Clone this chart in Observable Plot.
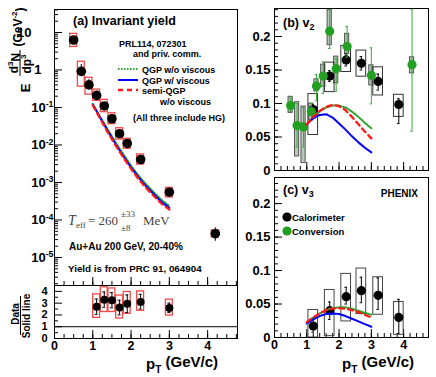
<!DOCTYPE html>
<html><head><meta charset="utf-8">
<script src="https://cdn.jsdelivr.net/npm/d3@7"></script>
<script src="https://cdn.jsdelivr.net/npm/@observablehq/plot@0.6"></script>
<style>
body{margin:0;background:#fff;}
#wrap{position:relative;width:436px;height:377px;overflow:hidden;background:#fff;font-family:"Liberation Sans",Arial,Helvetica,sans-serif;}
#wrap svg{position:absolute;overflow:visible;}
</style></head><body><div id="wrap"></div>
<script>
// ---------- Panel (a): invariant yield ----------
const yieldPT = [0.5, 0.7, 0.9, 1.1, 1.3, 1.5, 1.7, 1.9, 2.25, 3.0, 4.2];
const yieldVal = [6.3, 0.92, 0.4, 0.21, 0.11, 0.05, 0.02, 0.011, 0.0041, 0.00055, 4.3e-5];
const yieldStatLo = [5.5, 0.68, 0.31, 0.17, 0.095, 0.044, 0.017, 0.0095, 0.0036, 0.00048, 2.7e-5];
const yieldStatHi = [7.2, 1.4, 0.56, 0.26, 0.13, 0.057, 0.024, 0.0128, 0.0047, 0.00063, 6.2e-5];
const yieldSysLo = [4.1, 0.36, 0.22, 0.15, 0.075, 0.036, 0.014, 0.0079, 0.003, 0.0004, 3.4e-5];
const yieldSysHi = [9.2, 1.66, 0.62, 0.3, 0.16, 0.07, 0.028, 0.0146, 0.0056, 0.00072, 5.3e-5];

const modelPT = [1.0, 1.2, 1.4, 1.6, 1.8, 2.0, 2.2, 2.4, 2.6, 2.8, 3.0];
const yieldQGPnoVisc = [0.125, 0.055, 0.025, 0.0115, 0.0056, 0.0028, 0.0015, 0.00088, 0.00054, 0.00034, 0.000235];
const yieldQGPvisc = [0.12, 0.052, 0.023, 0.0105, 0.005, 0.0025, 0.00135, 0.00078, 0.00048, 0.0003, 0.00021];
const yieldSemiQGP = [0.115, 0.049, 0.021, 0.0096, 0.0046, 0.0023, 0.00122, 0.0007, 0.00043, 0.00027, 0.00019];

const yieldTickVals = [10, 1, 0.1, 0.01, 0.001, 1e-4, 1e-5];
const yieldTickText = ["10", "1", "10^-1", "10^-2", "10^-3", "10^-4", "10^-5"];

// ratio Data / Solid line
const ratioPT = [1.1, 1.3, 1.5, 1.7, 1.9, 2.25, 3.0];
const ratioVal = [2.7, 3.3, 3.25, 2.63, 2.95, 3.1, 2.6];
const ratioStatLo = [2.05, 2.65, 2.6, 2.0, 2.2, 2.5, 2.2];
const ratioStatHi = [3.35, 3.95, 3.9, 3.25, 3.7, 3.75, 3.0];
const ratioSysLo = [1.75, 2.25, 2.25, 1.7, 2.1, 2.35, 1.95];
const ratioSysHi = [3.75, 4.35, 4.25, 3.65, 3.95, 4.0, 3.3];
const ratioRef = [1];
const ratioTickVals = [0, 1, 2, 3, 4];
const ptTickVals = [0, 1, 2, 3, 4];
const ptTickText = ["0", "1", "2", "3", "4"];

// ---------- Panel (b): v2 ----------
const v2CalPT = [1.2, 1.71, 2.22, 2.69, 3.21, 3.85];
const v2Cal = [0.091, 0.141, 0.165, 0.160, 0.133, 0.0985];
const v2CalStatLo = [0.08, 0.133, 0.156, 0.150, 0.120, 0.070];
const v2CalStatHi = [0.098, 0.149, 0.174, 0.170, 0.144, 0.107];
const v2CalSysLo = [0.053, 0.117, 0.147, 0.140, 0.112, 0.080];
const v2CalSysHi = [0.114, 0.161, 0.186, 0.179, 0.154, 0.113];

const v2ConvPT = [0.5, 0.7, 0.9, 1.14, 1.3, 1.51, 1.71, 1.91, 2.25, 3.0, 4.26];
const v2Conv = [0.097, 0.067, 0.065, 0.088, 0.126, 0.141, 0.208, 0.152, 0.185, 0.142, 0.158];
const v2ConvStatLo = [0.088, 0.035, 0.035, 0.076, 0.104, 0.115, 0.182, 0.118, 0.169, 0.0995, 0.0587];
const v2ConvStatHi = [0.108, 0.1, 0.094, 0.1, 0.143, 0.162, 0.24, 0.167, 0.215, 0.183, 0.241];
const v2ConvSysLo = [0.086, 0.021, 0.011, 0.075, 0.118, 0.125, 0.187, 0.13, 0.174, 0.127, 0.145];
const v2ConvSysHi = [0.110, 0.102, 0.0955, 0.10, 0.136, 0.158, 0.24, 0.17, 0.204, 0.157, 0.169];

const v2QGPnoVisc = [0.069, 0.079, 0.088, 0.094, 0.097, 0.097, 0.094, 0.088, 0.080, 0.071, 0.063];
const v2QGPvisc = [0.069, 0.078, 0.083, 0.084, 0.079, 0.070, 0.061, 0.051, 0.042, 0.034, 0.027];
const v2SemiQGP = [0.069, 0.080, 0.089, 0.095, 0.098, 0.096, 0.090, 0.080, 0.069, 0.058, 0.048];

// ---------- Panel (c): v3 ----------
const v3CalPT = [1.2, 1.71, 2.22, 2.69, 3.21, 3.85];
const v3Cal = [0.017, 0.040, 0.061, 0.070, 0.063, 0.030];
const v3CalStatLo = [0.008, 0.027, 0.050, 0.052, 0.042, 0.006];
const v3CalStatHi = [0.028, 0.053, 0.075, 0.090, 0.089, 0.057];
const v3CalSysLo = [0.0, 0.002, 0.024, 0.035, 0.034, 0.004];
const v3CalSysHi = [0.041, 0.071, 0.095, 0.103, 0.090, 0.053];

const v3QGPnoVisc = [0.023, 0.030, 0.036, 0.041, 0.044, 0.045, 0.045, 0.043, 0.040, 0.037, 0.034];
const v3QGPvisc = [0.021, 0.027, 0.032, 0.035, 0.036, 0.035, 0.032, 0.028, 0.024, 0.020, 0.016];
const v3SemiQGP = [0.023, 0.030, 0.036, 0.041, 0.043, 0.044, 0.043, 0.041, 0.038, 0.034, 0.030];

const vnTickVals = [0, 0.05, 0.1, 0.15, 0.2];
const vnTickText = ["0", "0.05", "0.1", "0.15", "0.2"];

// ---------- styles ----------
const FONT = "'Liberation Sans', Arial, Helvetica, sans-serif";
const GREEN = "#22a022";
const GREEN_LINE = "#2aa52a";
const BLUE = "#0000ff";
const RED = "#ff1a1a";
const BOXRED = "#f04848";

const wrap = document.getElementById("wrap");

function supify(svg) {
  d3.select(svg).selectAll("text").each(function () {
    const t = this.textContent;
    const m = t.match(/^(.*?)\^(\S+)$/);
    if (!m) return;
    const s = d3.select(this);
    s.text(null);
    s.append("tspan").text(m[1]);
    s.append("tspan").attr("dy", "-0.5em").attr("font-size", "0.68em").text(m[2]);
  });
}
function plotAt(left, top, opts) {
  const svg = Plot.plot({...opts, style: {background: "transparent", fontFamily: FONT, overflow: "visible", color: "black"}});
  svg.style.position = "absolute";
  svg.style.left = left + "px";
  svg.style.top = top + "px";
  wrap.appendChild(svg);
  supify(svg);
  return svg;
}
const idx = a => a.map((_, i) => i);
const minorRange = (a, b, s) => d3.range(Math.round((b - a) / s) + 1).map(k => +(a + k * s).toFixed(4));
function logMinor(lo, hi) {
  const out = [];
  for (let e = -7; e <= 2; e++) for (let m = 2; m <= 9; m++) { const v = m * Math.pow(10, e); if (v > lo && v < hi) out.push(v); }
  return out;
}
const tickMarks = (axis, vals, size, anchor) => axis(vals, {anchor, tickSize: -size, fill: "none", strokeWidth: 1});
const lbl = {fontSize: 13, fontWeight: "bold", fill: "black"};
const xlbl = {fontSize: 12.5, fontWeight: "bold", fill: "black"};

function curves(xs, g, b, r) {
  const iM = idx(xs);
  return [
    Plot.line(iM, {x: i => xs[i], y: i => g[i], stroke: GREEN_LINE, strokeWidth: 2, strokeDasharray: "1.5,1.5"}),
    Plot.line(iM, {x: i => xs[i], y: i => b[i], stroke: BLUE, strokeWidth: 2}),
    Plot.line(iM, {x: i => xs[i], y: i => r[i], stroke: RED, strokeWidth: 2.3, strokeDasharray: "5,4"})
  ];
}

// ---------- Panel (a) upper ----------
const iA = idx(yieldPT);
const iT = idx(yieldTickVals);
const svgA = plotAt(0, 0, {
  width: 240, height: 286, marginLeft: 54, marginRight: 3, marginTop: 9, marginBottom: 1,
  x: {domain: [0, 4.78]},
  y: {type: "log", domain: [1.79e-6, 41]},
  marks: [
    tickMarks(Plot.axisY, yieldTickVals, 8, "left"),
    tickMarks(Plot.axisY, logMinor(1.79e-6, 41), 4, "left"),
    tickMarks(Plot.axisX, ptTickVals, 8, "bottom"),
    tickMarks(Plot.axisX, minorRange(0, 4.75, 0.25), 4, "bottom"),
    Plot.text(iT.filter(i => yieldTickText[i].includes("^")), {y: i => yieldTickVals[i], text: i => yieldTickText[i], frameAnchor: "left", textAnchor: "end", dx: -1, lineAnchor: "middle", ...lbl}),
    Plot.text(iT.filter(i => yieldTickText[i] === "1"), {y: i => yieldTickVals[i], text: i => yieldTickText[i], frameAnchor: "left", textAnchor: "end", dx: -13, lineAnchor: "middle", ...lbl}),
    Plot.text(iT.filter(i => yieldTickText[i] === "10"), {y: i => yieldTickVals[i], text: i => yieldTickText[i], frameAnchor: "left", textAnchor: "end", dx: -23, lineAnchor: "middle", ...lbl}),
    Plot.rect(iA, {x1: i => yieldPT[i] - 0.09, x2: i => yieldPT[i] + 0.09, y1: i => yieldSysLo[i], y2: i => yieldSysHi[i], fill: "none", stroke: BOXRED, strokeWidth: 1.3}),
    Plot.ruleX(iA, {x: i => yieldPT[i], y1: i => yieldStatLo[i], y2: i => yieldStatHi[i], stroke: "black", strokeWidth: 1}),
    Plot.dot(iA, {x: i => yieldPT[i], y: i => yieldVal[i], r: 4.8, fill: "black"}),
    ...curves(modelPT, yieldQGPnoVisc, yieldQGPvisc, yieldSemiQGP),
    Plot.frame({stroke: "black"})
  ]
});

// ---------- Panel (a) ratio ----------
const iR = idx(ratioPT);
const svgR = plotAt(0, 284, {
  width: 240, height: 93, marginLeft: 54, marginRight: 3, marginTop: 1, marginBottom: 39,
  x: {domain: [0, 4.78]},
  y: {domain: [0, 4.5]},
  marks: [
    tickMarks(Plot.axisY, ratioTickVals, 8, "left"),
    tickMarks(Plot.axisY, [0.5, 1.5, 2.5, 3.5], 4, "left"),
    tickMarks(Plot.axisX, ptTickVals, 8, "bottom"),
    tickMarks(Plot.axisX, minorRange(0, 4.75, 0.25), 4, "bottom"),
    Plot.text(ratioTickVals, {y: d => d, text: d => String(d), frameAnchor: "left", textAnchor: "end", dx: -7, lineAnchor: "middle", fontSize: 11, fontWeight: "bold", fill: "black"}),
    Plot.text(idx(ptTickVals), {x: i => ptTickVals[i], text: i => ptTickText[i], frameAnchor: "bottom", lineAnchor: "middle", dy: 7, ...xlbl}),
    Plot.ruleY(ratioRef, {stroke: "black", strokeWidth: 1}),
    Plot.rect(iR, {x1: i => ratioPT[i] - 0.09, x2: i => ratioPT[i] + 0.09, y1: i => ratioSysLo[i], y2: i => ratioSysHi[i], fill: "none", stroke: BOXRED, strokeWidth: 1.3}),
    Plot.ruleX(iR, {x: i => ratioPT[i], y1: i => ratioStatLo[i], y2: i => ratioStatHi[i], stroke: "black"}),
    Plot.ruleY(iR.flatMap(i => [[i, ratioStatLo[i]], [i, ratioStatHi[i]]]), {y: d => d[1], x1: d => ratioPT[d[0]] - 0.04, x2: d => ratioPT[d[0]] + 0.04, stroke: "black"}),
    Plot.dot(iR, {x: i => ratioPT[i], y: i => ratioVal[i], r: 4, fill: "black"}),
    Plot.frame({stroke: "black"})
  ]
});

// ---------- Panel (b) ----------
const iBc = idx(v2CalPT), iBv = idx(v2ConvPT);
const svgB = plotAt(240, 0, {
  width: 196, height: 172, marginLeft: 34, marginRight: 8, marginTop: 8, marginBottom: 2,
  x: {domain: [0, 4.77]},
  y: {domain: [0, 0.2418]},
  marks: [
    tickMarks(Plot.axisY, vnTickVals, 8, "left"),
    tickMarks(Plot.axisY, minorRange(0, 0.24, 0.01), 4, "left"),
    tickMarks(Plot.axisX, ptTickVals, 8, "bottom"),
    tickMarks(Plot.axisX, minorRange(0, 4.6, 0.2), 4, "bottom"),
    Plot.text(idx(vnTickVals), {y: i => vnTickVals[i], text: i => vnTickText[i], frameAnchor: "left", textAnchor: "end", dx: -4, lineAnchor: "middle", ...lbl}),
    Plot.rect(iBv, {x1: i => v2ConvPT[i] - 0.065, x2: i => v2ConvPT[i] + 0.065, y1: i => v2ConvSysLo[i], y2: i => v2ConvSysHi[i], fill: "#b8c8b8", stroke: "#555", strokeWidth: 1}),
    Plot.rect(iBc, {x1: i => v2CalPT[i] - 0.15, x2: i => v2CalPT[i] + 0.15, y1: i => v2CalSysLo[i], y2: i => v2CalSysHi[i], fill: "none", stroke: "#333", strokeWidth: 1}),
    Plot.ruleX(iBc, {x: i => v2CalPT[i], y1: i => v2CalStatLo[i], y2: i => v2CalStatHi[i], stroke: "black"}),
    Plot.ruleY(iBc.flatMap(i => [[i, v2CalStatLo[i]], [i, v2CalStatHi[i]]]), {y: d => d[1], x1: d => v2CalPT[d[0]] - 0.04, x2: d => v2CalPT[d[0]] + 0.04, stroke: "black"}),
    Plot.dot(iBc, {x: i => v2CalPT[i], y: i => v2Cal[i], r: 4.6, fill: "black"}),
    Plot.ruleX(iBv, {x: i => v2ConvPT[i], y1: i => v2ConvStatLo[i], y2: i => v2ConvStatHi[i], stroke: "#3aa83a"}),
    Plot.ruleY(iBv.flatMap(i => [[i, v2ConvStatLo[i]], [i, v2ConvStatHi[i]]]), {y: d => d[1], x1: d => v2ConvPT[d[0]] - 0.04, x2: d => v2ConvPT[d[0]] + 0.04, stroke: "#3aa83a"}),
    Plot.dot(iBv, {x: i => v2ConvPT[i], y: i => v2Conv[i], r: 4.6, fill: GREEN}),
    ...curves(modelPT, v2QGPnoVisc, v2QGPvisc, v2SemiQGP),
    Plot.frame({stroke: "black"})
  ]
});

// ---------- Panel (c) ----------
const iC = idx(v3CalPT);
const svgC = plotAt(240, 172, {
  width: 196, height: 205, marginLeft: 34, marginRight: 8, marginTop: 5, marginBottom: 40,
  x: {domain: [0, 4.77]},
  y: {domain: [0, 0.239]},
  marks: [
    tickMarks(Plot.axisY, vnTickVals, 8, "left"),
    tickMarks(Plot.axisY, minorRange(0, 0.23, 0.01), 4, "left"),
    tickMarks(Plot.axisX, ptTickVals, 8, "bottom"),
    tickMarks(Plot.axisX, minorRange(0, 4.6, 0.2), 4, "bottom"),
    Plot.text(idx(vnTickVals), {y: i => vnTickVals[i], text: i => vnTickText[i], frameAnchor: "left", textAnchor: "end", dx: -4, lineAnchor: "middle", ...lbl}),
    Plot.text(idx(ptTickVals), {x: i => ptTickVals[i], text: i => ptTickText[i], frameAnchor: "bottom", lineAnchor: "middle", dy: 7, ...xlbl}),
    Plot.rect(iC, {x1: i => v3CalPT[i] - 0.15, x2: i => v3CalPT[i] + 0.15, y1: i => v3CalSysLo[i], y2: i => v3CalSysHi[i], fill: "none", stroke: "#444", strokeWidth: 1}),
    Plot.ruleX(iC, {x: i => v3CalPT[i], y1: i => v3CalStatLo[i], y2: i => v3CalStatHi[i], stroke: "black"}),
    Plot.ruleY(iC.flatMap(i => [[i, v3CalStatLo[i]], [i, v3CalStatHi[i]]]), {y: d => d[1], x1: d => v3CalPT[d[0]] - 0.04, x2: d => v3CalPT[d[0]] + 0.04, stroke: "black"}),
    Plot.dot(iC, {x: i => v3CalPT[i], y: i => v3Cal[i], r: 4.6, fill: "black"}),
    ...curves(modelPT, v3QGPnoVisc, v3QGPvisc, v3SemiQGP),
    Plot.frame({stroke: "black"})
  ]
});

// ---------- annotations ----------
function txt(svg, x, y, s, o = {}) {
  const t = d3.select(svg).append("text").attr("x", x).attr("y", y)
    .attr("font-family", o.family || FONT).attr("font-size", o.size || 9.5)
    .attr("font-weight", o.weight || "bold").attr("fill", o.fill || "black")
    .attr("text-anchor", o.anchor || "start");
  if (o.style) t.attr("font-style", o.style);
  if (o.rotate) t.attr("transform", `rotate(-90,${x},${y})`).attr("dominant-baseline", "central");
  if (Array.isArray(s)) s.forEach(p => {
    const ts = t.append("tspan").text(p.t);
    if (p.dy) ts.attr("dy", p.dy);
    if (p.size) ts.attr("font-size", p.size);
  });
  else t.text(s);
  return t;
}
const a = svgA;
txt(a, 73, 25, "(a) Invariant yield", {size: 12.5});
txt(a, 119, 46.5, "PRL114, 072301", {size: 9});
txt(a, 133, 57, "and priv. comm.", {size: 9});
const ga = d3.select(a);
ga.append("line").attr("x1", 118).attr("x2", 138).attr("y1", 69).attr("y2", 69).attr("stroke", GREEN_LINE).attr("stroke-width", 2).attr("stroke-dasharray", "1.5,1.5");
ga.append("line").attr("x1", 118).attr("x2", 138).attr("y1", 80).attr("y2", 80).attr("stroke", BLUE).attr("stroke-width", 2);
ga.append("line").attr("x1", 118).attr("x2", 138).attr("y1", 90).attr("y2", 90).attr("stroke", RED).attr("stroke-width", 2.3).attr("stroke-dasharray", "5,4");
txt(a, 142, 72.5, "QGP w/o viscous", {size: 9});
txt(a, 142, 83.5, "QGP w/ viscous", {size: 9});
txt(a, 142, 93.5, "semi-QGP", {size: 9});
txt(a, 160, 105, "w/o viscous", {size: 9});
txt(a, 133, 120.5, "(All three include HG)", {size: 9});
const serif = "'Liberation Serif','DejaVu Serif',serif";
txt(a, 68, 225, "T", {family: serif, size: 14, weight: "normal", style: "italic", fill: "#444"});
txt(a, 76, 228, "eff", {family: serif, size: 9, weight: "normal", fill: "#444"});
txt(a, 88, 225, "= 260", {family: serif, size: 13, weight: "normal", fill: "#444"});
txt(a, 121, 217, "±33", {family: serif, size: 9, weight: "normal", fill: "#444"});
txt(a, 121, 231, "±8", {family: serif, size: 9, weight: "normal", fill: "#444"});
txt(a, 143, 225, "MeV", {family: serif, size: 13, weight: "normal", fill: "#444"});
txt(a, 69, 250, "Au+Au 200 GeV, 20-40%", {size: 10});
txt(a, 68, 272, "Yield is from PRC 91, 064904", {size: 9.8});
// y-axis title of (a)
txt(a, 25, 88, "E", {size: 13, rotate: true, anchor: "middle"});
txt(a, 14, 63, [{t: "d"}, {t: "3", dy: "-0.45em", size: 8}, {t: "N", dy: "0.45em"}], {size: 12, rotate: true, anchor: "middle"});
ga.append("line").attr("x1", 20).attr("x2", 20).attr("y1", 50).attr("y2", 76).attr("stroke", "black").attr("stroke-width", 1);
txt(a, 26.5, 64, [{t: "dp"}, {t: "3", dy: "-0.45em", size: 8}], {size: 12, rotate: true, anchor: "middle"});
txt(a, 18, 27, [{t: "(GeV"}, {t: "-2", dy: "-0.45em", size: 8}, {t: ")", dy: "0.45em"}], {size: 12, rotate: true, anchor: "middle"});

// ratio panel titles (svgR origin at y=284)
const r = svgR;
txt(r, 15, 30, "Data", {size: 10, rotate: true, anchor: "middle"});
d3.select(r).append("line").attr("x1", 20.5).attr("x2", 20.5).attr("y1", 12).attr("y2", 51).attr("stroke", "black").attr("stroke-width", 1);
txt(r, 26.5, 32, "Solid line", {size: 10, rotate: true, anchor: "middle"});
txt(r, 218, 85, [{t: "p"}, {t: "T", dy: "0.35em", size: 10}, {t: " (GeV/c)", dy: "-0.35em"}], {size: 15, anchor: "end"});

// panel b
txt(svgB, 43, 27, [{t: "(b) v"}, {t: "2", dy: "0.35em", size: 9}], {size: 12.5});
// panel c (svgC origin 240,172)
txt(svgC, 43, 22, [{t: "(c) v"}, {t: "3", dy: "0.35em", size: 9}], {size: 12.5});
txt(svgC, 178, 25, "PHENIX", {size: 10, anchor: "end"});
const gc = d3.select(svgC);
gc.append("circle").attr("cx", 47).attr("cy", 45).attr("r", 4.6).attr("fill", "black");
txt(svgC, 52, 48.5, "Calorimeter", {size: 9.5});
gc.append("circle").attr("cx", 47).attr("cy", 59).attr("r", 4.6).attr("fill", GREEN);
txt(svgC, 52, 62.5, "Conversion", {size: 9.5});
txt(svgC, 174, 197, [{t: "p"}, {t: "T", dy: "0.35em", size: 10}, {t: " (GeV/c)", dy: "-0.35em"}], {size: 15, anchor: "end"});
</script></body></html>
